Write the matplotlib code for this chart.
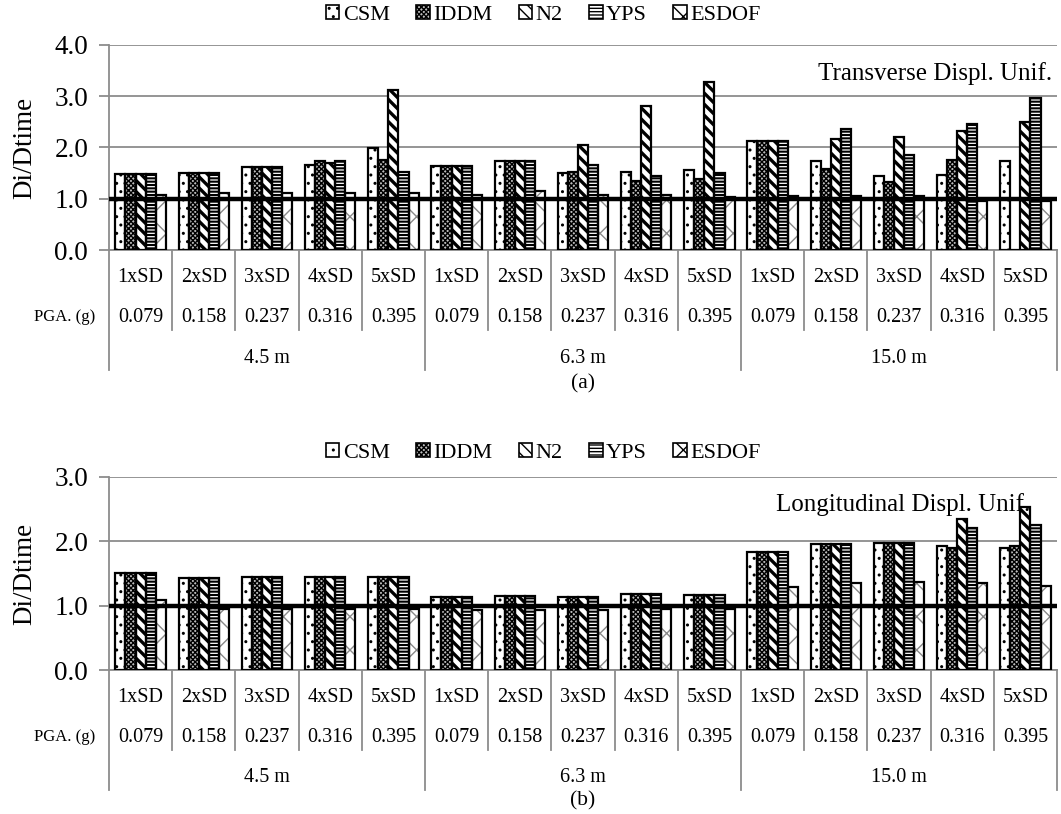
import numpy as np
import matplotlib.pyplot as plt
from matplotlib.patches import Patch

plt.rcParams['font.family'] = ['Liberation Serif', 'DejaVu Serif']

# categories
sd_labels = ['1xSD', '2xSD', '3xSD', '4xSD', '5xSD'] * 3
pga_labels = ['0.079', '0.158', '0.237', '0.316', '0.395'] * 3
height_labels = ['4.5 m', '6.3 m', '15.0 m']
series = ['CSM', 'IDDM', 'N2', 'YPS', 'ESDOF']

# (a) transverse
tr_csm = [1.48, 1.51, 1.61, 1.65, 1.99, 1.63, 1.74, 1.51, 1.52, 1.56, 2.13, 1.74, 1.45, 1.46, 1.74]
tr_iddm = [1.48, 1.51, 1.61, 1.74, 1.76, 1.63, 1.74, 1.53, 1.35, 1.38, 2.13, 1.59, 1.32, 1.75, 0.0]
tr_n2 = [1.48, 1.51, 1.61, 1.70, 3.12, 1.63, 1.74, 2.05, 2.80, 3.27, 2.13, 2.17, 2.20, 2.33, 2.49]
tr_yps = [1.48, 1.51, 1.61, 1.73, 1.52, 1.63, 1.74, 1.65, 1.45, 1.50, 2.13, 2.36, 1.85, 2.45, 2.97]
tr_esdof = [1.07, 1.11, 1.12, 1.12, 1.12, 1.08, 1.16, 1.07, 1.07, 1.03, 1.05, 1.05, 1.05, 0.96, 0.95]

# (b) longitudinal
lo_csm = [1.51, 1.43, 1.44, 1.45, 1.45, 1.14, 1.15, 1.14, 1.18, 1.16, 1.84, 1.96, 1.97, 1.93, 1.89]
lo_iddm = [1.51, 1.43, 1.44, 1.45, 1.45, 1.14, 1.15, 1.14, 1.18, 1.16, 1.84, 1.96, 1.97, 1.90, 1.92]
lo_n2 = [1.51, 1.43, 1.44, 1.45, 1.45, 1.14, 1.15, 1.14, 1.18, 1.16, 1.84, 1.96, 1.97, 2.34, 2.53]
lo_yps = [1.51, 1.43, 1.44, 1.45, 1.45, 1.14, 1.15, 1.14, 1.18, 1.16, 1.84, 1.96, 1.97, 2.20, 2.25]
lo_esdof = [1.09, 0.95, 0.95, 0.95, 0.95, 0.93, 0.94, 0.94, 0.95, 0.95, 1.29, 1.35, 1.37, 1.36, 1.31]

# hatch style per series: (facecolor, hatch, hatch colour, hatch lw)
styles = [('white', '..', 'black', 1.0),
          ('#bdbdbd', 'xxxxxxx', 'black', 1.0),
          ('white', '\\\\\\', 'black', 2.4),
          ('white', '-----', 'black', 1.5),
          ('white', 'x', '#8a8a8a', 1.0)]

W, H = 1061, 814
fig = plt.figure(figsize=(W / 100, H / 100), dpi=100)


def px_axes(left, top, right, bottom):
    return fig.add_axes([left / W, 1 - bottom / H, (right - left) / W, (bottom - top) / H])


def draw_panel(ax, data, ymax, note, note_xy, legend_y, ax_h, sub, sub_y):
    x = np.arange(len(sd_labels))
    bw = 0.16
    for i, vals in enumerate(data):
        fc, hatch, hc, hlw = styles[i]
        pos = x + (i - 2) * bw
        bars = ax.bar(pos, vals, bw, facecolor=fc, edgecolor=hc, hatch=hatch, linewidth=0, zorder=3)
        for b in bars:
            try:
                b.set_hatch_linewidth(hlw)
            except AttributeError:
                pass
        ax.bar(pos, vals, bw, fill=False, edgecolor='black', linewidth=1.6, zorder=4)

    ax.axhline(1.0, color='black', linewidth=3.2, zorder=5)
    ax.set_xlim(-0.5, len(sd_labels) - 0.5)
    ax.set_ylim(0, ymax)
    ax.set_yticks(np.arange(0, ymax + 0.01, 1.0))
    ax.set_yticklabels(['%.1f' % v for v in np.arange(0, ymax + 0.01, 1.0)], fontsize=19.5)
    ax.yaxis.grid(True, color='#8c8c8c', linewidth=1.3, zorder=0)
    ax.set_axisbelow(True)
    ax.set_xticks([])
    for s in ['top', 'right']:
        ax.spines[s].set_visible(False)
    ax.spines['left'].set_color('#8c8c8c')
    ax.spines['left'].set_linewidth(1.3)
    ax.spines['bottom'].set_color('#8c8c8c')
    ax.spines['bottom'].set_linewidth(1.3)
    ax.tick_params(axis='y', length=7, color='#8c8c8c', width=1.3, pad=8)
    ax.set_ylabel('Di/Dtime', fontsize=19.5, labelpad=12)

    # multi-level category axis
    tr = ax.get_xaxis_transform()

    def fy(px):
        return -px / ax_h

    for k in range(len(sd_labels)):
        ax.text(k, fy(27), sd_labels[k], transform=tr, ha='center', va='center', fontsize=14.5)
        ax.text(k, fy(67), pga_labels[k], transform=tr, ha='center', va='center', fontsize=14.5)
    for g, lab in enumerate(height_labels):
        ax.text(g * 5 + 2, fy(108), lab, transform=tr, ha='center', va='center', fontsize=14.5)
    for b in np.arange(-0.5, len(sd_labels), 1.0):
        low = 120 if (b + 0.5) % 5 == 0 else 80
        ax.plot([b, b], [0, fy(low)], transform=tr, color='#8c8c8c', linewidth=1.3, clip_on=False)
    ax.text(-0.72, fy(67), 'PGA. (g)', transform=tr, ha='right', va='center', fontsize=12)
    ax.text(7, fy(sub_y), sub, transform=tr, ha='center', va='center', fontsize=15.5)

    ax.text(note_xy[0], note_xy[1], note, transform=ax.transAxes, ha='right', va='center', fontsize=18)

    handles = []
    for i, name in enumerate(series):
        fc, hatch, hc, hlw = styles[i]
        handles.append(Patch(facecolor=fc, edgecolor='black', hatch=hatch, linewidth=1.2, label=name))
    fig.legend(handles=handles, loc='center', bbox_to_anchor=(0.512, 1 - legend_y / H), ncol=5,
               frameon=False, fontsize=16, handlelength=0.6, handleheight=0.6,
               handletextpad=0.15, columnspacing=1.2)


ax1 = px_axes(109, 45, 1057, 250)
draw_panel(ax1, [tr_csm, tr_iddm, tr_n2, tr_yps, tr_esdof], 4.0,
           'Transverse Displ. Unif.', (0.995, 0.86), 15, 205, '(a)', 134)

ax2 = px_axes(109, 477, 1057, 670)
draw_panel(ax2, [lo_csm, lo_iddm, lo_n2, lo_yps, lo_esdof], 3.0,
           'Longitudinal Displ. Unif.', (0.972, 0.86), 453, 193, '(b)', 131)

fig.savefig('out.png', dpi=100)
